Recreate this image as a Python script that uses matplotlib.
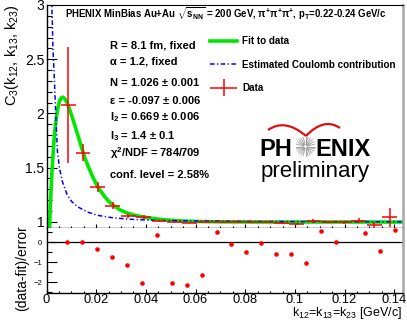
import numpy as np
import matplotlib
matplotlib.use('Agg')
import matplotlib.pyplot as plt
from matplotlib.lines import Line2D
from matplotlib.patches import PathPatch
from matplotlib.path import Path
from matplotlib.legend_handler import HandlerErrorbar
from matplotlib.ticker import MultipleLocator

plt.rcParams['font.family'] = ['Liberation Sans', 'DejaVu Sans']
plt.rcParams['mathtext.fontset'] = 'custom'
plt.rcParams['mathtext.rm'] = 'Liberation Sans'
plt.rcParams['mathtext.it'] = 'Liberation Sans:italic'
plt.rcParams['mathtext.bf'] = 'Liberation Sans:bold'

# ---------------- data ----------------
k_data = [0.0087, 0.0147, 0.0206, 0.0266, 0.0330, 0.0392, 0.0453, 0.0515,
          0.0576, 0.0638, 0.0700, 0.0761, 0.0823, 0.0884, 0.0946, 0.1008,
          0.1073, 0.1134, 0.1196, 0.1257, 0.1319, 0.1381]
c3_data = [2.077, 1.637, 1.321, 1.150, 1.055, 1.045, 1.005, 0.995,
           0.993, 1.002, 1.000, 0.998, 0.999, 0.995, 0.990, 0.980,
           1.010, 1.000, 0.995, 1.010, 0.972, 1.040]
c3_err = [0.535, 0.080, 0.045, 0.035, 0.018, 0.015, 0.005, 0.005,
          0.005, 0.005, 0.006, 0.006, 0.007, 0.007, 0.008, 0.010,
          0.020, 0.010, 0.012, 0.025, 0.025, 0.085]
k_halfwidth = 0.003

fit_k = [0.0006, 0.0010, 0.0014, 0.0018, 0.0022, 0.0026, 0.0030, 0.0035,
         0.0040, 0.0046, 0.0052, 0.0058, 0.0065, 0.0072, 0.0080, 0.0087,
         0.0097, 0.0107, 0.0118, 0.0130, 0.0143, 0.0156, 0.0170, 0.0185,
         0.0200, 0.0216, 0.0233, 0.0252, 0.0273, 0.0296, 0.0320, 0.0350,
         0.0385, 0.0420, 0.0460, 0.0500, 0.0550, 0.0600, 0.0700, 0.0850,
         0.1000, 0.1200, 0.1435]
fit_val = [0.55, 0.82, 1.06, 1.28, 1.46, 1.61, 1.74, 1.87,
           1.97, 2.05, 2.11, 2.14, 2.15, 2.14, 2.11, 2.077,
           2.01, 1.94, 1.86, 1.77, 1.67, 1.58, 1.50, 1.42,
           1.35, 1.29, 1.235, 1.185, 1.145, 1.11, 1.085, 1.063,
           1.046, 1.033, 1.022, 1.014, 1.007, 1.003, 1.000, 0.998,
           0.998, 0.998, 0.998]

coul_k = [0.0017, 0.0021, 0.0026, 0.0032, 0.0038, 0.0044, 0.0052, 0.0064,
          0.0083, 0.0100, 0.0124, 0.0165, 0.0205, 0.0257, 0.0325, 0.0394,
          0.0458, 0.0600, 0.0800, 0.1000, 0.1200, 0.1435]
coul_val = [3.6, 3.05, 2.6, 2.3, 1.95, 1.65, 1.50, 1.37,
            1.25, 1.19, 1.14, 1.09, 1.06, 1.04, 1.025, 1.017,
            1.012, 1.008, 1.004, 1.002, 1.001, 1.000]

k_res = [0.0084, 0.0144, 0.0204, 0.0264, 0.0324, 0.0384, 0.0445, 0.0505,
         0.0565, 0.0625, 0.0686, 0.0743, 0.0803, 0.0863, 0.0924, 0.0984,
         0.1044, 0.1104, 0.1165, 0.1225, 0.1284, 0.1343, 0.1403]
resid = [0.0, 0.0, -0.35, -0.75, -1.13, -2.02, 0.365, -2.02,
         -2.12, -1.62, 0.53, -0.085, -0.5, -0.035, -0.585, -0.57,
         -1.02, 0.58, 0.015, np.nan, 0.48, -0.45, 0.615]

param_lines = ["R = 8.1 fm, fixed",
               "\u03b1 = 1.2, fixed",
               "N = 1.026 \u00b1 0.001",
               "\u03b5 = -0.097 \u00b1 0.006",
               "I$_{\\mathbf{2}}$ = 0.669 \u00b1 0.006",
               "I$_{\\mathbf{3}}$ = 1.4 \u00b1 0.1",
               "\u03c7$^{\\mathbf{2}}$/NDF = 784/709",
               "conf. level = 2.58%"]

# ---------------- figure ----------------
W, H = 407, 320
fig = plt.figure(figsize=(W / 100, H / 100), dpi=100)


def fx(x):
    return x / W


def fy(y):
    return 1 - y / H


left, right = 46.5, 403
top_t, top_b = 5, 228.3
bot_b = 293
ax = fig.add_axes([fx(left), fy(top_b), (right - left) / W, (top_b - top_t) / H])
axr = fig.add_axes([fx(left), fy(bot_b), (right - left) / W, (bot_b - top_b) / H], sharex=ax)

green = '#00e800'
blue = '#0000ff'
red = '#ff0000'

ax.plot(fit_k, fit_val, color=green, lw=2.6, zorder=2, solid_capstyle='butt')
ax.plot(coul_k, coul_val, color=blue, lw=1.1, ls=(0, (3, 1.6, 0.8, 1.6)), zorder=3)
eb = ax.errorbar(k_data, c3_data, yerr=c3_err, xerr=k_halfwidth, fmt='none',
                 ecolor=red, elinewidth=1.1, capsize=0, zorder=4)

ax.set_xlim(0, 0.1435)
ax.set_ylim(0.94, 3.0)

for a in (ax, axr):
    a.spines['left'].set_linewidth(1.0)
    a.spines['bottom'].set_linewidth(1.0)
    a.spines['right'].set_color('#a8a8a8')
    a.spines['right'].set_linewidth(1.8)
ax.spines['top'].set_linewidth(0.8)
axr.spines['top'].set_visible(False)

ax.yaxis.set_major_locator(MultipleLocator(0.5))
ax.yaxis.set_minor_locator(MultipleLocator(0.1))
ax.xaxis.set_major_locator(MultipleLocator(0.02))
ax.xaxis.set_minor_locator(MultipleLocator(0.005))
ax.tick_params(axis='y', which='major', direction='in', length=7, width=0.8,
               labelsize=10, pad=1.5, left=True, right=False)
ax.tick_params(axis='y', which='minor', direction='in', length=3.5, width=0.8,
               left=True, right=False)
ax.tick_params(axis='x', which='major', direction='in', length=3, width=0.8,
               labelbottom=False, top=False)
ax.tick_params(axis='x', which='minor', direction='in', length=1.8, width=0.8, top=False)
ax.set_yticks([1, 1.5, 2, 2.5, 3])
ax.set_yticklabels(['1', '1.5', '2', '2.5', '3'])

# residual panel
axr.axhline(0, color='black', lw=0.9, zorder=1)
axr.plot(k_res, resid, 'o', color=red, ms=3.3, mec='none', zorder=3)
axr.set_ylim(-2.535, 0.70)
axr.yaxis.set_major_locator(MultipleLocator(1))
axr.yaxis.set_minor_locator(MultipleLocator(0.5))
axr.tick_params(axis='y', which='major', direction='in', length=7, width=0.8,
                labelsize=5.5, pad=3, right=False)
axr.tick_params(axis='y', which='minor', direction='in', length=3.5, width=0.8, right=False)
axr.tick_params(axis='x', which='major', direction='in', length=3, width=0.8,
                labelsize=9.3, pad=0.6, top=False)
axr.tick_params(axis='x', which='minor', direction='in', length=1.8, width=0.8, top=False)
axr.set_xticks([0, 0.02, 0.04, 0.06, 0.08, 0.1, 0.12, 0.14])
axr.set_xticklabels(['0', '0.02', '0.04', '0.06', '0.08', '0.1', '0.12', '0.14'])
axr.set_xlim(0, 0.1435)

# axis titles
fig.text(fx(12), fy(4), r"C$_{\mathrm{3}}$(k$_{\mathrm{12}}$, k$_{\mathrm{13}}$, k$_{\mathrm{23}}$)",
         rotation=90, ha='center', va='top', fontsize=10.5)
fig.text(fx(22.5), fy(268), "(data-fit)/error", rotation=90, ha='center', va='center',
         fontsize=10)
fig.text(fx(402), fy(316), r"k$_{\mathrm{12}}$=k$_{\mathrm{13}}$=k$_{\mathrm{23}}$ [GeV/c]",
         ha='right', va='baseline', fontsize=9)

# header
fig.text(fx(65), fy(18.3),
         r"PHENIX MinBias Au+Au $\sqrt{\mathbf{s}_{\mathbf{NN}}}$ = 200 GeV, "
         r"$\mathbf{\pi^{+}\pi^{+}\pi^{+}}$, p$_{\mathbf{T}}$=0.22-0.24 GeV/c",
         ha='left', va='baseline', fontsize=6.9, fontweight='bold')

# fit parameters
baselines = [48.3, 65.0, 85.7, 104.3, 120.7, 139.0, 157.3, 178.3]
for txt, yb in zip(param_lines, baselines):
    fig.text(fx(110), fy(yb), txt, ha='left', va='baseline', fontsize=8,
             fontweight='bold')

# legend
h_fit = Line2D([], [], color=green, lw=2.6)
h_coul = Line2D([], [], color=blue, lw=1.1, ls=(0, (3, 1.6, 0.8, 1.6)))
leg = ax.legend([h_fit, h_coul, eb], ["Fit to data", "Estimated Coulomb contribution", "Data"],
                loc='upper left', bbox_to_anchor=(fx(210), fy(36.5)),
                bbox_transform=fig.transFigure, frameon=False,
                prop={'weight': 'bold', 'size': 7.1}, handlelength=2.74,
                handletextpad=0.5, labelspacing=1.35, borderpad=0, borderaxespad=0,
                handler_map={type(eb): HandlerErrorbar(xerr_size=1.37, yerr_size=0.86)})

# PHENIX logo
fig.text(fx(259), fy(156), "PH", ha='left', va='baseline', fontsize=17, fontweight='bold')
fig.text(fx(315), fy(156), "ENIX", ha='left', va='baseline', fontsize=17, fontweight='bold')
cx, cy = 305.5, 146.5
for ang in np.linspace(0, 2 * np.pi, 24, endpoint=False):
    x0, y0 = cx + 2.0 * np.cos(ang), cy + 2.0 * np.sin(ang)
    x1, y1 = cx + 9.5 * np.cos(ang), cy + 9.5 * np.sin(ang)
    fig.add_artist(Line2D([fx(x0), fx(x1)], [fy(y0), fy(y1)], color='#9a9a9a', lw=0.6,
                          transform=fig.transFigure))
for (p0, c, p1) in [((268, 130), (285, 118), (306, 136)), ((306, 136), (324, 117), (340, 128))]:
    verts = [(fx(p0[0]), fy(p0[1])), (fx(c[0]), fy(c[1])), (fx(p1[0]), fy(p1[1]))]
    path = Path(verts, [Path.MOVETO, Path.CURVE3, Path.CURVE3])
    fig.add_artist(PathPatch(path, fill=False, edgecolor='#e01010', lw=1.6,
                             transform=fig.transFigure))
fig.text(fx(315), fy(176.5), "preliminary", ha='center', va='baseline', fontsize=16)

fig.savefig('out.png', dpi=100)
